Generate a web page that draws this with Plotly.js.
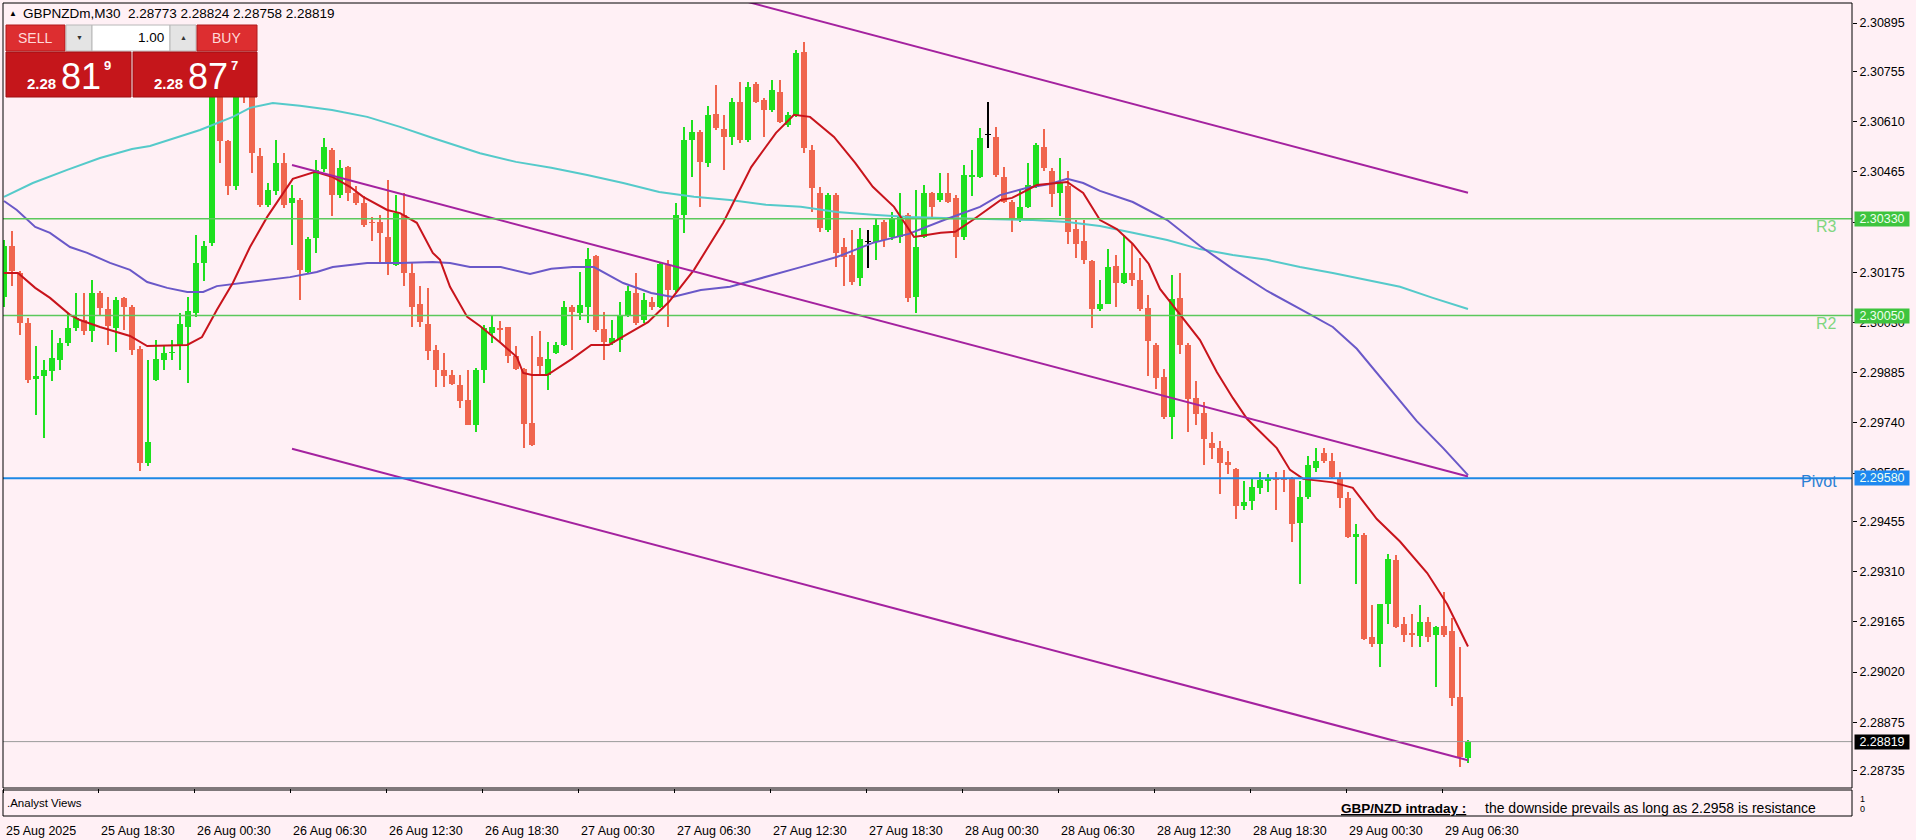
<!DOCTYPE html>
<html><head><meta charset="utf-8">
<script src="https://cdn.plot.ly/plotly-3.0.1.min.js"></script>
<style>html,body{margin:0;padding:0;background:#FFF0F5;overflow:hidden}#chart{width:1916px;height:840px}</style>
</head><body><div id="chart"></div>
<script>
// ---------------- DATA ----------------
const symbolTitle = 'GBPNZDm,M30';
const lastOHLC = [2.28773, 2.28824, 2.28758, 2.28819];
const openP = [2.30105,2.30250,2.30173,2.30028,2.29868,2.29876,2.29889,2.29922,2.29970,2.30014,2.30038,2.30004,2.30115,2.30069,2.30014,2.30100,2.30076,2.29953,2.29624,2.29864,2.29922,2.29941,2.29961,2.30018,2.30057,2.30202,2.30261,2.30760,2.30553,2.30423,2.30745,2.30720,2.30512,2.30370,2.30409,2.30492,2.30375,2.30385,2.30177,2.30274,2.30473,2.30529,2.30399,2.30479,2.30404,2.30375,2.30321,2.30319,2.30278,2.30197,2.30341,2.30174,2.30083,2.30026,2.29951,2.29893,2.29879,2.29850,2.29805,2.29734,2.29893,2.30001,2.30014,2.30016,2.29934,2.29895,2.29739,2.29930,2.29879,2.29943,2.29965,2.30076,2.30057,2.30076,2.30222,2.30010,2.29970,2.29979,2.30052,2.30114,2.30037,2.30090,2.30076,2.30196,2.30124,2.30341,2.30557,2.30581,2.30490,2.30632,2.30588,2.30567,2.30668,2.30557,2.30719,2.30673,2.30644,2.30697,2.30601,2.30629,2.30812,2.30528,2.30403,2.30297,2.30398,2.30249,2.30225,2.30158,2.30263,2.30263,2.30321,2.30278,2.30278,2.30341,2.30105,2.30278,2.30403,2.30384,2.30403,2.30389,2.30278,2.30451,2.30451,2.30572,2.30567,2.30451,2.30379,2.30326,2.30365,2.30422,2.30537,2.30469,2.30405,2.30424,2.30299,2.30265,2.30207,2.30069,2.30084,2.30192,2.30144,2.30172,2.30153,2.30071,2.29966,2.29873,2.29756,2.30101,2.29966,2.29811,2.29769,2.29681,2.29668,2.29627,2.29606,2.29500,2.29513,2.29553,2.29572,2.29581,2.29581,2.29578,2.29451,2.29526,2.29610,2.29653,2.29630,2.29578,2.29524,2.29410,2.29417,2.29120,2.29102,2.29218,2.29343,2.29158,2.29133,2.29124,2.29165,2.29127,2.29153,2.29139,2.28948,2.28773];
const highP = [2.30269,2.30293,2.30178,2.30043,2.29961,2.29922,2.30009,2.29985,2.30057,2.30115,2.30115,2.30153,2.30120,2.30105,2.30105,2.30105,2.30081,2.29961,2.29922,2.29980,2.29961,2.29980,2.30057,2.30105,2.30283,2.30264,2.30790,2.30800,2.30558,2.30780,2.30775,2.30740,2.30534,2.30433,2.30558,2.30519,2.30428,2.30389,2.30278,2.30500,2.30562,2.30534,2.30500,2.30483,2.30423,2.30394,2.30336,2.30341,2.30442,2.30399,2.30404,2.30201,2.30134,2.30129,2.29965,2.29943,2.29893,2.29879,2.29893,2.29898,2.30023,2.30052,2.30033,2.30018,2.29961,2.29898,2.29990,2.30004,2.29975,2.29975,2.30091,2.30081,2.30177,2.30244,2.30225,2.30061,2.30037,2.30090,2.30134,2.30172,2.30114,2.30105,2.30206,2.30211,2.30374,2.30596,2.30615,2.30586,2.30654,2.30716,2.30629,2.30678,2.30726,2.30726,2.30726,2.30678,2.30731,2.30731,2.30639,2.30817,2.30841,2.30543,2.30422,2.30403,2.30403,2.30273,2.30297,2.30302,2.30297,2.30331,2.30326,2.30350,2.30403,2.30345,2.30413,2.30427,2.30408,2.30461,2.30461,2.30398,2.30485,2.30528,2.30591,2.30668,2.30596,2.30480,2.30384,2.30413,2.30490,2.30548,2.30588,2.30476,2.30506,2.30469,2.30327,2.30327,2.30211,2.30153,2.30243,2.30224,2.30282,2.30256,2.30217,2.30108,2.29972,2.29895,2.30166,2.30172,2.29972,2.29862,2.29800,2.29714,2.29688,2.29658,2.29610,2.29572,2.29578,2.29597,2.29591,2.29597,2.29604,2.29584,2.29572,2.29643,2.29668,2.29666,2.29653,2.29597,2.29540,2.29449,2.29423,2.29214,2.29218,2.29362,2.29358,2.29180,2.29187,2.29213,2.29180,2.29153,2.29252,2.29175,2.29093,2.28824];
const lowP = [2.30076,2.30134,2.29995,2.29855,2.29763,2.29696,2.29860,2.29893,2.29961,2.30004,2.29995,2.29975,2.30048,2.29966,2.29946,2.30009,2.29937,2.29600,2.29614,2.29860,2.29893,2.29922,2.29893,2.29855,2.30047,2.30149,2.30250,2.30490,2.30399,2.30413,2.30664,2.30462,2.30365,2.30365,2.30399,2.30360,2.30255,2.30096,2.30172,2.30230,2.30466,2.30338,2.30389,2.30380,2.30370,2.30307,2.30264,2.30206,2.30168,2.30192,2.30134,2.30018,2.30016,2.29922,2.29845,2.29845,2.29850,2.29782,2.29734,2.29715,2.29855,2.29970,2.29975,2.29912,2.29893,2.29667,2.29674,2.29879,2.29835,2.29939,2.29961,2.29951,2.30037,2.30028,2.30003,2.29922,2.29965,2.29946,2.30047,2.30023,2.30028,2.30066,2.30071,2.30018,2.30119,2.30288,2.30451,2.30365,2.30480,2.30586,2.30471,2.30543,2.30548,2.30552,2.30663,2.30567,2.30639,2.30605,2.30596,2.30625,2.30519,2.30350,2.30292,2.30292,2.30191,2.30134,2.30138,2.30134,2.30186,2.30211,2.30249,2.30268,2.30259,2.30090,2.30057,2.30273,2.30336,2.30379,2.30374,2.30215,2.30268,2.30394,2.30446,2.30533,2.30451,2.30374,2.30292,2.30321,2.30360,2.30418,2.30469,2.30363,2.30338,2.30256,2.30217,2.30198,2.30015,2.30062,2.30082,2.30075,2.30140,2.30134,2.30062,2.29875,2.29839,2.29752,2.29694,2.29940,2.29714,2.29733,2.29617,2.29636,2.29533,2.29591,2.29462,2.29488,2.29488,2.29533,2.29540,2.29488,2.29540,2.29397,2.29274,2.29520,2.29597,2.29623,2.29578,2.29494,2.29407,2.29274,2.29112,2.29093,2.29035,2.29160,2.29146,2.29107,2.29091,2.29093,2.29107,2.28977,2.29122,2.28921,2.28746,2.28758];
const closeP = [2.30250,2.30178,2.30028,2.29865,2.29874,2.29893,2.29927,2.29970,2.30014,2.30043,2.30004,2.30115,2.30072,2.30019,2.30096,2.30076,2.29951,2.29624,2.29686,2.29924,2.29943,2.29946,2.30025,2.30064,2.30202,2.30250,2.30760,2.30553,2.30425,2.30760,2.30725,2.30519,2.30368,2.30413,2.30490,2.30370,2.30389,2.30182,2.30271,2.30471,2.30538,2.30399,2.30476,2.30404,2.30375,2.30312,2.30317,2.30288,2.30203,2.30346,2.30174,2.30076,2.30030,2.29949,2.29893,2.29876,2.29853,2.29802,2.29734,2.29893,2.30014,2.30016,2.30007,2.29932,2.29895,2.29737,2.29676,2.29903,2.29924,2.29965,2.30076,2.30061,2.30081,2.30212,2.30008,2.29975,2.29984,2.30052,2.30121,2.30028,2.30095,2.30076,2.30198,2.30124,2.30341,2.30557,2.30581,2.30495,2.30629,2.30591,2.30567,2.30668,2.30557,2.30711,2.30668,2.30644,2.30702,2.30610,2.30629,2.30808,2.30533,2.30418,2.30302,2.30398,2.30230,2.30220,2.30148,2.30270,2.30263,2.30312,2.30268,2.30331,2.30336,2.30100,2.30249,2.30403,2.30365,2.30405,2.30379,2.30278,2.30456,2.30456,2.30562,2.30572,2.30456,2.30379,2.30326,2.30365,2.30427,2.30543,2.30476,2.30402,2.30437,2.30291,2.30256,2.30211,2.30069,2.30084,2.30190,2.30144,2.30172,2.30153,2.30069,2.29976,2.29869,2.29756,2.30097,2.29966,2.29808,2.29765,2.29692,2.29668,2.29623,2.29617,2.29500,2.29511,2.29555,2.29575,2.29581,2.29575,2.29575,2.29449,2.29526,2.29617,2.29630,2.29630,2.29584,2.29524,2.29410,2.29420,2.29115,2.29101,2.29218,2.29348,2.29151,2.29127,2.29128,2.29165,2.29122,2.29149,2.29127,2.28946,2.28775,2.28819];

// moving averages at bar positions
const maFastX = [0,1.75,3.9,5.75,8.25,9.5,12,14.1,15.75,17.9,22.9,24.75,26.6,28.6,30.75,32.9,34.9,36.1,38.9,41.1,43.25,44.9,47.9,49.5,51.6,53.6,54.5,55.75,57.9,59.5,62.1,64.1,64.9,66,67.9,71,73.4,75.6,77.75,80.5,83.1,86.25,89.9,93.4,96.5,98.75,100.75,103.75,106.4,108.6,111.25,113.1,113.75,117.1,118.9,121.1,124.6,126,129.1,132.9,134.9,137,139.1,141.1,143.1,144.5,147.4,149.5,151.6,153.6,155.4,157.9,159.1,160.75,162.4,166.1,168.6,171.6,174.5,177.9,180.4,183];
const maFastY = [2.30173,2.30173,2.30130,2.30101,2.30052,2.30037,2.30017,2.30003,2.29991,2.29962,2.29965,2.29988,2.30066,2.30144,2.30248,2.30335,2.30404,2.30445,2.30465,2.30450,2.30422,2.30393,2.30355,2.30346,2.30318,2.30231,2.30211,2.30133,2.30046,2.30020,2.29971,2.29930,2.29884,2.29878,2.29878,2.29925,2.29965,2.29965,2.29994,2.30031,2.30089,2.30182,2.30318,2.30479,2.30578,2.30630,2.30624,2.30566,2.30491,2.30422,2.30364,2.30297,2.30277,2.30289,2.30292,2.30326,2.30384,2.30390,2.30427,2.30436,2.30404,2.30326,2.30300,2.30257,2.30199,2.30127,2.30043,2.29979,2.29887,2.29812,2.29751,2.29693,2.29667,2.29604,2.29578,2.29568,2.29552,2.29462,2.29397,2.29306,2.29216,2.29094];
const maMidX = [0,1.6,3.9,5.75,8.25,10.4,13.25,15.75,17.9,20.4,22.9,24.9,26.6,28.6,32.9,35.75,39.1,41.1,45.4,49.5,53.6,55.75,58.25,62.1,65.75,68.4,71.1,73.75,77.4,80.9,83.6,87.1,90.75,95.25,99.6,104.1,108.6,113.1,117.5,122,124.5,127.9,130.75,132.9,134.9,137,141.1,145.4,147.4,149.5,153.6,157.9,162,166.1,169.1,172.4,176.6,179.9,183];
const maMidY = [2.30381,2.30355,2.30306,2.30289,2.30248,2.30231,2.30202,2.30182,2.30147,2.30130,2.30118,2.30118,2.30135,2.30141,2.30153,2.30161,2.30176,2.30190,2.30202,2.30202,2.30205,2.30202,2.30190,2.30190,2.30170,2.30185,2.30190,2.30190,2.30144,2.30115,2.30104,2.30124,2.30133,2.30161,2.30190,2.30219,2.30260,2.30286,2.30326,2.30364,2.30398,2.30419,2.30430,2.30445,2.30433,2.30410,2.30378,2.30326,2.30289,2.30251,2.30185,2.30121,2.30069,2.30017,2.29954,2.29861,2.29745,2.29667,2.29589];
const maSlowX = [0,3.6,7.9,12,16,18.25,24.5,28.6,30.75,33.6,37,41,45.4,49.5,53.6,59.5,64,68.4,72.9,77.4,81.9,86.25,90.75,95.25,99.6,104.1,108.6,113.1,117.5,122,128.6,132.9,137,141.1,145.4,149.5,153.6,157.9,162,166.1,170.4,174.5,178.6,183];
const maSlowY = [2.30393,2.30433,2.30471,2.30505,2.30531,2.30540,2.30586,2.30624,2.30650,2.30664,2.30656,2.30644,2.30624,2.30595,2.30563,2.30519,2.30494,2.30477,2.30456,2.30433,2.30407,2.30393,2.30384,2.30370,2.30364,2.30349,2.30341,2.30335,2.30332,2.30329,2.30326,2.30320,2.30309,2.30289,2.30268,2.30242,2.30225,2.30211,2.30190,2.30173,2.30153,2.30133,2.30101,2.30069];

// equidistant channel (start bar, end bar)
const channelX = [36, 183];
const channelTop = [2.31305, 2.30405];
const channelMid = [2.30485, 2.29585];
const channelBot = [2.29665, 2.28765];

// pivot levels
const levelNames = ['R3', 'R2', 'Pivot'];
const levelValues = [2.30330, 2.30050, 2.29580];
const currentPrice = 2.28819;

// axes
const priceTicks = [2.30895,2.30755,2.30610,2.30465,2.30320,2.30175,2.30030,2.29885,2.29740,2.29595,2.29455,2.29310,2.29165,2.29020,2.28875,2.28735];
const timeTickIdx = [0,12,24,36,48,60,72,84,96,108,120,132,144,156,168,180];
const timeTickText = ['25 Aug 2025','25 Aug 18:30','26 Aug 00:30','26 Aug 06:30','26 Aug 12:30','26 Aug 18:30','27 Aug 00:30','27 Aug 06:30','27 Aug 12:30','27 Aug 18:30','28 Aug 00:30','28 Aug 06:30','28 Aug 12:30','28 Aug 18:30','29 Aug 00:30','29 Aug 06:30'];

// trade panel quotes
const sellQuote = ['2.28', '81', '9'];
const buyQuote = ['2.28', '87', '7'];
const lotSize = '1.00';
const analystTitle = 'GBP/NZD intraday :';
const analystText = 'the downside prevails as long as 2.2958 is resistance';

// ---------------- DRAWING ----------------
const BULL = '#1EE01E', BEAR = '#F0654E', DOJI = '#000000';
const FONT = 'Liberation Sans, Arial, sans-serif';
const NARROW = 'Liberation Sans Narrow, Liberation Sans, Arial, sans-serif';
const PL = 3, PR = 1852, PT = 3, PB = 816, MAIN_B = 788;
const fx = px => (px - PL) / (PR - PL);
const fy = py => (PB - py) / (PB - PT);

const idx = openP.map((_, i) => i);
const colors = openP.map((o, i) => closeP[i] > o ? BULL : (closeP[i] < o ? BEAR : DOJI));
const minBody = 0.00003;
const bodyLen = openP.map((o, i) => Math.abs(closeP[i] - o));
const bodyBase = openP.map((o, i) => Math.min(o, closeP[i]) - Math.max(0, minBody - bodyLen[i]) / 2);
const bodyDraw = bodyLen.map(l => Math.max(l, minBody));

const traces = [
  {type: 'bar', x: idx, base: lowP, y: highP.map((h, i) => h - lowP[i]), width: 0.14,
   marker: {color: colors, line: {width: 0}}, hoverinfo: 'skip', xaxis: 'x', yaxis: 'y'},
  {type: 'bar', x: idx, base: bodyBase, y: bodyDraw, width: 0.64,
   marker: {color: colors, line: {width: 0}}, hoverinfo: 'skip', xaxis: 'x', yaxis: 'y'},
  {type: 'scatter', mode: 'lines', x: maSlowX, y: maSlowY, line: {color: '#55CACA', width: 2}, hoverinfo: 'skip'},
  {type: 'scatter', mode: 'lines', x: maMidX, y: maMidY, line: {color: '#6A58C8', width: 2}, hoverinfo: 'skip'},
  {type: 'scatter', mode: 'lines', x: maFastX, y: maFastY, line: {color: '#C8141C', width: 2}, hoverinfo: 'skip'},
  {type: 'scatter', mode: 'lines', x: channelX, y: channelTop, line: {color: '#A4229F', width: 2}, hoverinfo: 'skip'},
  {type: 'scatter', mode: 'lines', x: channelX, y: channelMid, line: {color: '#A4229F', width: 2}, hoverinfo: 'skip'},
  {type: 'scatter', mode: 'lines', x: channelX, y: channelBot, line: {color: '#A4229F', width: 2}, hoverinfo: 'skip'}
];

const levelColors = ['#5CC85C', '#5CC85C', '#1E88E5'];
const levelTextColors = ['#7FD67F', '#7FD67F', '#2A7FD4'];
const levelBoxColors = ['#3EC43E', '#3EC43E', '#1E88F0'];

const shapes = [];
levelValues.forEach((v, k) => {
  shapes.push({type: 'line', xref: 'paper', yref: 'y', x0: 0, x1: 1, y0: v, y1: v,
    line: {color: levelColors[k], width: k === 2 ? 2 : 1.5}, layer: 'above'});
});
shapes.push({type: 'line', xref: 'paper', yref: 'y', x0: 0, x1: 1, y0: currentPrice, y1: currentPrice,
  line: {color: '#9A9A9A', width: 1}, layer: 'above'});
// panel borders
shapes.push({type: 'rect', xref: 'paper', yref: 'paper', x0: 0, x1: 1, y0: fy(MAIN_B), y1: 1,
  line: {color: '#000', width: 1}, layer: 'above'});
shapes.push({type: 'rect', xref: 'paper', yref: 'paper', x0: 0, x1: 1, y0: 0, y1: fy(790),
  line: {color: '#000', width: 1}, layer: 'above'});
// trade panel
const rect = (x0, x1, y0, y1, fill, line) => shapes.push({type: 'rect', xref: 'paper', yref: 'paper',
  x0: fx(x0), x1: fx(x1), y0: fy(y1), y1: fy(y0), fillcolor: fill, line: {color: line, width: 1}, layer: 'above'});
rect(6, 65, 25, 51, '#DD2E30', '#B01A1C');
rect(66, 92, 25, 51, '#E4E4E4', '#B8B8B8');
rect(92, 170, 25, 51, '#FFFFFF', '#B8B8B8');
rect(170, 196, 25, 51, '#E4E4E4', '#B8B8B8');
rect(197, 257, 25, 51, '#DD2E30', '#B01A1C');
rect(6, 131, 52, 97, '#C5161B', '#9E0F12');
rect(133, 257, 52, 97, '#C5161B', '#9E0F12');

const ann = [];
const A = (o) => ann.push(Object.assign({showarrow: false, xref: 'paper', yref: 'paper', xanchor: 'center', yanchor: 'middle'}, o));
A({x: fx(7), y: fy(13), xanchor: 'left', text: '▲', font: {family: FONT, size: 8, color: '#000'}});
A({x: fx(21), y: fy(13), xanchor: 'left',
   text: symbolTitle + '  ' + lastOHLC.map(v => v.toFixed(5)).join(' '), font: {family: FONT, size: 13.5, color: '#000'}});
A({x: fx(35), y: fy(38.5), text: 'SELL', font: {family: NARROW, size: 14, color: '#FFD9D9'}});
A({x: fx(226), y: fy(38.5), text: 'BUY', font: {family: NARROW, size: 14, color: '#FFD9D9'}});
A({x: fx(79), y: fy(38), text: '▼', font: {family: FONT, size: 7, color: '#333'}});
A({x: fx(183), y: fy(38), text: '▲', font: {family: FONT, size: 7, color: '#333'}});
A({x: fx(166), y: fy(38), xanchor: 'right', text: lotSize, font: {family: FONT, size: 13.5, color: '#000'}});
const quote = (q, x0) => {
  A({x: fx(x0), y: fy(83), xanchor: 'left', text: '<b>' + q[0] + '</b>', font: {family: FONT, size: 15, color: '#FFFFFF'}});
  A({x: fx(x0 + 34), y: fy(76), xanchor: 'left', text: q[1], font: {family: FONT, size: 36, color: '#FFFFFF'}});
  A({x: fx(x0 + 77), y: fy(66), xanchor: 'left', text: '<b>' + q[2] + '</b>', font: {family: FONT, size: 13, color: '#FFFFFF'}});
};
quote(sellQuote, 25);
quote(buyQuote, 152);

// level texts and price boxes
levelValues.forEach((v, k) => {
  A({x: fx(1839), xanchor: 'right', yref: 'y', y: v, yanchor: 'top', yshift: k === 2 ? 7 : 3,
     text: levelNames[k], font: {family: FONT, size: 16, color: levelTextColors[k]}});
  A({x: 1, xanchor: 'left', xshift: 2, yref: 'y', y: v, width: 54, align: 'center',
     text: v.toFixed(5), bgcolor: levelBoxColors[k], borderpad: 0, font: {family: FONT, size: 12.5, color: '#EFFFEF'}});
});
A({x: 1, xanchor: 'left', xshift: 2, yref: 'y', y: currentPrice, width: 54, align: 'center',
   text: currentPrice.toFixed(5), bgcolor: '#000000', borderpad: 0, font: {family: FONT, size: 12.5, color: '#FFFFFF'}});

// time labels (placed just right of their tick, as the terminal does)
const tickPos = timeTickIdx.map(t => Math.max(t - 0.25, -0.1));
tickPos.forEach((t, k) => {
  A({xref: 'x', x: t, y: fy(831), xanchor: 'left', xshift: 1,
     text: timeTickText[k], font: {family: FONT, size: 12.5, color: '#000'}});
});
// lower panel texts
A({x: fx(5), y: fy(803), xanchor: 'left', text: '.Analyst Views', font: {family: FONT, size: 11.5, color: '#000'}});
A({x: fx(1339), y: fy(808), xanchor: 'left', text: '<u><b>' + analystTitle + '</b></u>', font: {family: FONT, size: 13.5, color: '#000'}});
A({x: fx(1483), y: fy(808), xanchor: 'left', text: analystText, font: {family: FONT, size: 14, color: '#000'}});
A({x: fx(1858), y: fy(799), xanchor: 'left', text: '1', font: {family: FONT, size: 9, color: '#000'}});
A({x: fx(1858), y: fy(809), xanchor: 'left', text: '0', font: {family: FONT, size: 9, color: '#000'}});

const layout = {
  width: 1916, height: 840,
  margin: {l: PL, r: 1916 - PR, t: PT, b: 840 - PB, pad: 0},
  paper_bgcolor: '#FFF0F5', plot_bgcolor: '#FFF0F5',
  showlegend: false, barmode: 'overlay', bargap: 0,
  xaxis: {range: [-0.125, 231], anchor: 'y2', showgrid: false, zeroline: false, showline: false,
          ticks: 'outside', ticklen: 4, tickcolor: '#000', tickwidth: 1,
          tickvals: tickPos, showticklabels: false, fixedrange: true},
  yaxis: {domain: [fy(MAIN_B), 1], range: [2.28685, 2.30953], side: 'right', anchor: 'x',
          showgrid: false, zeroline: false, showline: false,
          ticks: 'outside', ticklen: 4, tickcolor: '#000', tickwidth: 1,
          tickvals: priceTicks, ticktext: priceTicks.map(v => v.toFixed(5)),
          tickfont: {family: FONT, size: 12.5, color: '#000'}, fixedrange: true},
  yaxis2: {domain: [0, fy(790)], range: [0, 1], anchor: 'x', showgrid: false, zeroline: false,
           showticklabels: false, ticks: '', fixedrange: true},
  shapes: shapes, annotations: ann
};
Plotly.newPlot('chart', traces, layout, {displayModeBar: false, staticPlot: true});
</script></body></html>
